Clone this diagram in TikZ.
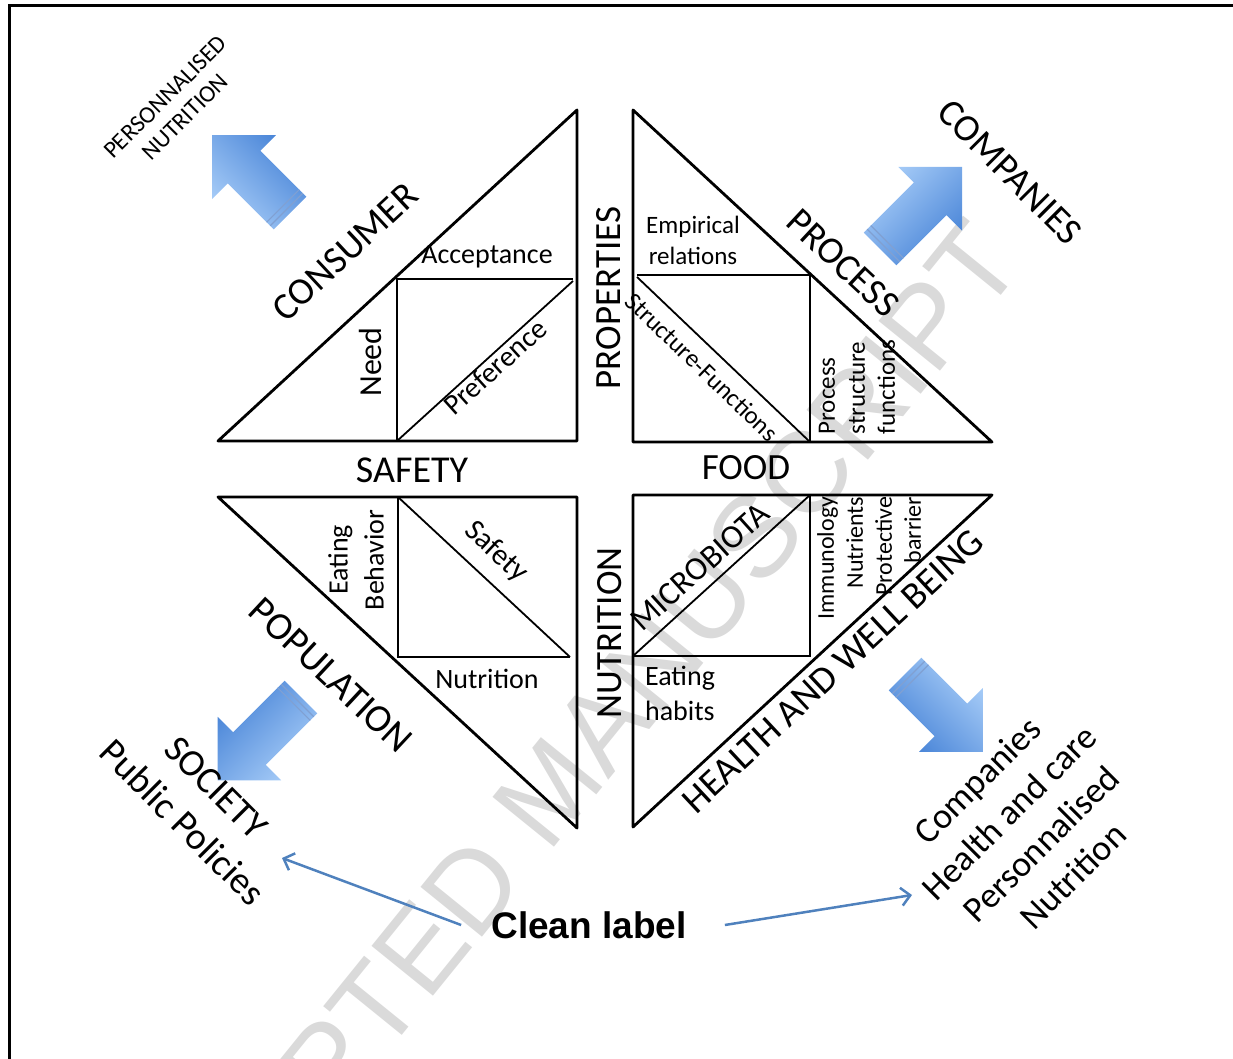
\documentclass[tikz,border=0pt]{standalone}
\usepackage{fontspec}
\setmainfont{Carlito}
\newfontfamily\arialfont{Liberation Sans}
\usetikzlibrary{arrows.meta, positioning, calc}

\definecolor{arrowlight}{RGB}{168,205,248}
\definecolor{arrowdark}{RGB}{72,132,215}
\definecolor{stripe}{RGB}{128,160,210}
\definecolor{linkblue}{RGB}{79,129,189}
\definecolor{markgray}{RGB}{218,218,218}

\newcommand{\fsz}[2]{\fontsize{#1pt}{#2pt}\selectfont}

\begin{document}
\begin{tikzpicture}[x=1pt, y=-1pt,
    tri/.style={line width=2.8pt, line join=round},
    part/.style={line width=1.8pt},
    lab/.style={inner sep=0pt},
    link/.style={linkblue, line width=2.5pt, -{Straight Barb[length=9pt, width=18pt]}},
  ]
    \useasboundingbox (0,0) rectangle (1233,1059);

    % Watermark
    \node[lab, text=markgray, rotate=51, font=\arialfont\fsz{115}{115}] (mark) at (550,790) {ACCEPTED MANUSCRIPT};

    % Frame
    \draw[line width=3pt] (9,1059) -- (9,6) -- (1233,6);

    % Consumer triangle
    \draw[tri] (218,441) -- (577,441) -- (577,110) -- cycle;
    \draw[part] (397,441) -- (397,279) -- (573,279);
    \draw[part] (397,441) -- (573,281);
    \node[lab, rotate=43, font=\fsz{38}{45}] (consumer) at (345,252) {CONSUMER};
    \node[lab, font=\fsz{28}{34}] (accept) at (487,257) {Acceptance};
    \node[lab, rotate=90, font=\fsz{32}{38}] (need) at (370,362) {Need};
    \node[lab, rotate=42, font=\fsz{29}{35}] (pref) at (495,367) {Preference};

    % Process triangle
    \draw[tri] (633,110) -- (633,442) -- (992,442) -- cycle;
    \draw[part] (637,275) -- (810,275) -- (810,442);
    \draw[part] (637,277) -- (810,442);
    \node[lab, rotate=90, font=\fsz{37}{44}] (props) at (609,298) {PROPERTIES};
    \node[lab, align=center, font=\fsz{25}{31}] (empir) at (693,240) {Empirical\\relations};
    \node[lab, rotate=-44, font=\fsz{25}{30}] (strfun) at (702,367) {Structure-Functions};
    \node[lab, rotate=90, align=left, font=\fsz{25}{30}] (procstr) at (857,387) {Process\\structure\\functions};
    \node[lab, rotate=-43, font=\fsz{38}{45}] (process) at (843,263) {PROCESS};

    % Middle words
    \node[lab, font=\fsz{38}{45}] (safety) at (412,470) {SAFETY};
    \node[lab, font=\fsz{37}{44}] (food) at (746,468) {FOOD};

    % Population triangle
    \draw[tri] (218,497) -- (577,497) -- (577,828) -- cycle;
    \draw[part] (398,497) -- (398,657) -- (570,657);
    \draw[part] (398,497) -- (570,657);
    \node[lab, rotate=90, align=center, font=\fsz{28}{36}] (eatbeh) at (356,560) {Eating\\Behavior};
    \node[lab, rotate=-43, font=\fsz{30}{36}] (safe) at (496,552) {Safety};
    \node[lab, font=\fsz{28}{34}] (nutri) at (487,679) {Nutrition};
    \node[lab, rotate=-43, font=\fsz{39}{46}] (popul) at (331,675) {POPULATION};
    \node[lab, rotate=90, font=\fsz{37}{44}] (nutrition) at (610,633) {NUTRITION};

    % Health triangle
    \draw[tri] (633,495) -- (992,495) -- (633,827) -- cycle;
    \draw[part] (633,656) -- (810,656) -- (810,495);
    \draw[part] (633,656) -- (810,495);
    \node[lab, rotate=42, font=\fsz{33}{40}] (micro) at (700,567) {MICROBIOTA};
    \node[lab, align=left, font=\fsz{28}{35}] (eathab) at (680,693) {Eating\\habits};
    \node[lab, rotate=90, align=right, font=\fsz{24}{29}] (immuno) at (869,558) {Immunology\\Nutrients\\Protective\\barrier};
    \node[lab, rotate=43, font=\fsz{38}{45}] (health) at (833,671) {HEALTH AND WELL BEING};

    % Block arrows
    \foreach \x/\y/\a/\l in {290/213/135/110, 880/249/45/116, 301/697/225/118, 905/674/-45/110} {
        \begin{scope}[shift={(\x,\y)}, rotate=\a]
            \shade[top color=arrowlight, bottom color=arrowdark, shading angle=\a]
                (0,-23) -- ({\l-45},-23) -- ({\l-45},-45) -- (\l,0) -- ({\l-45},45) -- ({\l-45},23) -- (0,23) -- cycle;
            \draw[stripe, line width=1.2pt] (5,-23) -- (5,23) (10,-23) -- (10,23);
        \end{scope}
    }

    % Outer words
    \node[lab, rotate=45, align=center, font=\fsz{24}{28}] (persnut) at (175,107) {PERSONNALISED\\NUTRITION};
    \node[lab, rotate=-45, font=\fsz{38}{45}] (companies) at (1010,172) {COMPANIES};
    \node[lab, rotate=-45, font=\fsz{38}{45}] (society) at (216,788) {SOCIETY};
    \node[lab, rotate=-45, font=\fsz{38}{45}] (policies) at (183,822) {Public Policies};
    \node[lab, rotate=45, align=center, font=\fsz{36}{45}] (outcomes) at (1025,828) {Companies\\Health and care\\Personnalised\\Nutrition};
    \node[lab, font=\arialfont\bfseries\fsz{37}{44}] (clean) at (589,925) {Clean label};

    % Clean label links
    \coordinate (poltip) at (282,858);
    \coordinate (outtip) at (912,895);
    \draw[link] ([xshift=-30pt]clean.west) -- (poltip);
    \draw[link] ([xshift=38pt]clean.east) -- (outtip);
\end{tikzpicture}
\end{document}
